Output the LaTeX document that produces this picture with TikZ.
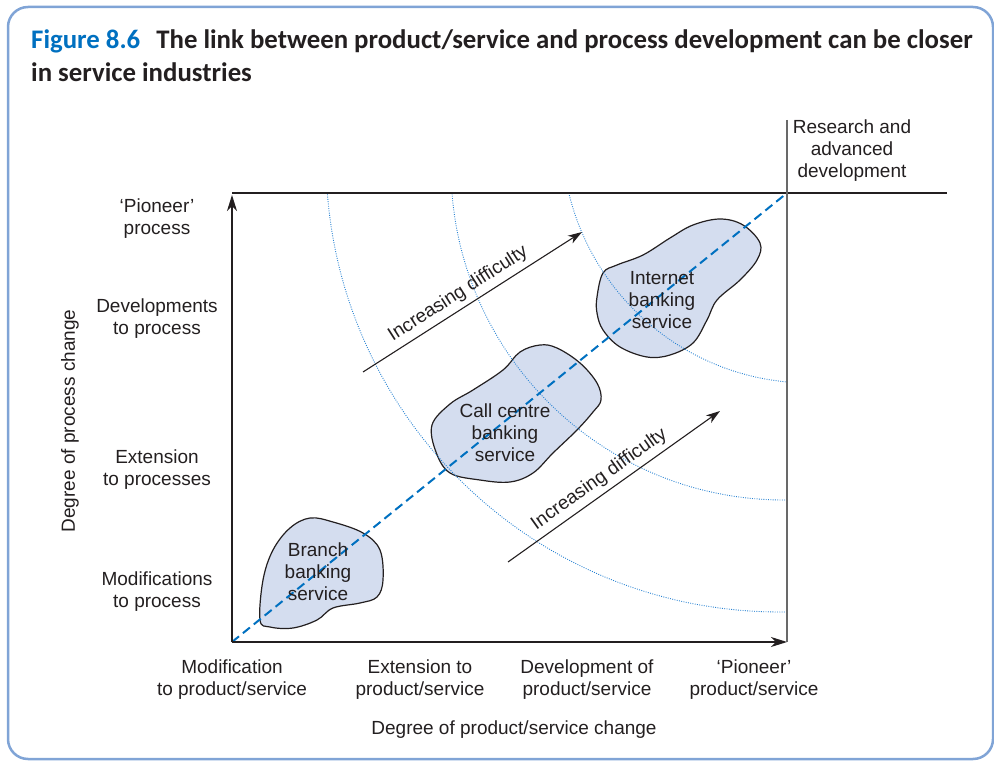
\documentclass[tikz,border=0pt]{standalone}
\usepackage{fontspec}
\setmainfont{Liberation Sans}
\newfontfamily\titlefont{Carlito}
\usetikzlibrary{arrows.meta}

\definecolor{frameblue}{RGB}{128,164,214}
\definecolor{figblue}{RGB}{0,112,192}
\definecolor{dotblue}{RGB}{40,130,210}
\definecolor{blobfill}{RGB}{212,221,239}
\definecolor{inkgray}{RGB}{35,31,32}
\definecolor{edgegray}{RGB}{105,105,105}

\tikzset{
  lbl/.style={align=center, inner sep=0pt, text=inkgray,
    font=\fontsize{19}{22}\selectfont},
  headline/.style={anchor=base west, inner sep=0pt, text=inkgray,
    font=\titlefont\bfseries\fontsize{26.8}{33}\selectfont},
  axis/.style={line width=1.2pt, draw=inkgray,
    -{Stealth[length=16pt,width=10pt,inset=5pt]}},
  blob/.style={draw=inkgray, line width=1.2pt, fill=blobfill},
  ring/.style={draw=dotblue, line width=0.9pt, dash pattern=on 0.9pt off 1.4pt},
  diag/.style={draw=figblue, line width=2pt, dash pattern=on 9pt off 5pt},
  hard/.style={line width=1.1pt, draw=inkgray,
    -{Stealth[length=14pt,width=9pt,inset=4pt]}},
}

\begin{document}
\begin{tikzpicture}[x=1pt,y=-1pt]
  % y grows downwards, one unit per pixel of the original
  \useasboundingbox (0,0) rectangle (994,762);
  \draw[frameblue, line width=2.5pt, rounded corners=20pt]
    (8,7) rectangle (993,759);

  %% Title
  \node[headline] (title) at (31,49)
    {\textcolor{figblue}{Figure 8.6}\hspace{0.6em}The link between product/service and process development can be closer};
  \node[headline] (title2) at (31,82) {in service industries};

  %% Frame of the chart
  \coordinate (O) at (232,642);
  \coordinate (X) at (787,642);
  \coordinate (Y) at (232,195);
  \coordinate (C) at (787,193);
  \coordinate (Rtop) at (787,120);
  \coordinate (Tend) at (947,193);

  %% Service areas
  \draw[blob] plot[smooth cycle, tension=0.6] coordinates {
    (260,620) (263,580) (273,550) (290,528) (310,518) (333,522)
    (363,533) (380,550) (383,580) (377,597) (360,603) (333,608)
    (317,620) (293,628) (270,627)};
  \draw[blob] plot[smooth cycle, tension=0.6] coordinates {
    (432,425) (450,404) (473,390) (503,370) (520,352) (540,345)
    (557,348) (580,363) (597,383) (601,400) (593,412) (577,430)
    (553,453) (533,473) (510,482) (480,480) (450,473) (436,452)};
  \draw[blob] plot[smooth cycle, tension=0.6] coordinates {
    (597,297) (603,273) (617,265) (643,255) (670,238) (693,225)
    (720,219) (743,225) (760,243) (757,260) (740,280) (717,300)
    (707,320) (693,343) (670,355) (647,357) (620,347) (603,330)
    (597,313)};

  %% Difficulty rings
  \begin{scope}
    \clip (O) rectangle (C);
    \draw[ring] (780,158) circle[radius=454];
    \draw[ring] (784,167) circle[radius=333];
    \draw[ring] (810,135) circle[radius=248];
  \end{scope}

  \draw[diag] (O) -- (C);

  \draw[axis] (O) -- (X);
  \draw[axis] (O) -- (Y);
  \draw[line width=1.2pt, inkgray] (232,193) -- (Tend);
  \draw[line width=1.8pt, edgegray] (Rtop) -- (X);

  %% Arrows
  \coordinate (h1a) at (363,372);
  \coordinate (h1b) at (582,232);
  \coordinate (h2a) at (508,562);
  \coordinate (h2b) at (720,411);
  \draw[hard] (h1a) -- (h1b)
    node[lbl, pos=0.47, above=5pt, sloped] (hard1) {Increasing difficulty};
  \draw[hard] (h2a) -- (h2b)
    node[lbl, pos=0.47, above=5pt, sloped] (hard2) {Increasing difficulty};

  %% Texts in the areas
  \node[lbl] (branch) at (318,572) {Branch\\banking\\service};
  \node[lbl] (call) at (505,433) {Call centre\\banking\\service};
  \node[lbl] (internet) at (662,300) {Internet\\banking\\service};

  %% Vertical scale
  \node[lbl] (p4) at (157,219) {‘Pioneer’\\process};
  \node[lbl] (p3) at (157,319) {Developments\\to process};
  \node[lbl] (p2) at (157,470) {Extension\\to processes};
  \node[lbl] (p1) at (157,592) {Modifications\\to process};
  \node[lbl, rotate=90] (ylab) at (70,421) {Degree of process change};

  %% Horizontal scale
  \node[lbl] (s1) at (232,680) {Modification\\to product/service};
  \node[lbl] (s2) at (420,680) {Extension to\\product/service};
  \node[lbl] (s3) at (587,680) {Development of\\product/service};
  \node[lbl] (s4) at (754,680) {‘Pioneer’\\product/service};
  \node[lbl] (xlab) at (514,730) {Degree of product/service change};

  \node[lbl] (rnd) at (852,151) {Research and\\advanced\\development};
\end{tikzpicture}
\end{document}
